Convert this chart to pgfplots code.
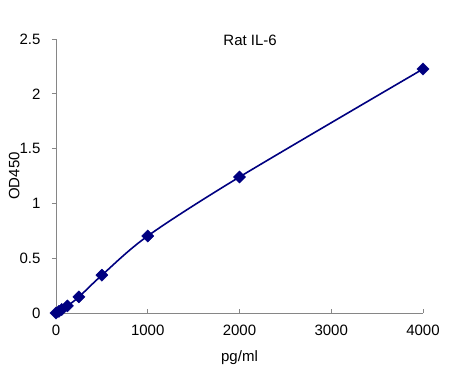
\documentclass[border=0pt]{standalone}
\usepackage{pgfplots}
\pgfplotsset{compat=1.18}
\usepackage{fontspec}
\setmainfont{Liberation Sans}
\definecolor{navyc}{RGB}{0,0,128}
\definecolor{axgray}{RGB}{134,134,134}
\begin{document}
\begin{tikzpicture}
\useasboundingbox (-56pt,-69pt) rectangle (397pt,313pt);
\begin{axis}[
  scale only axis,
  width=367pt, height=274pt,
  anchor=south west, at={(0pt,0pt)},
  xmin=0, xmax=4000, ymin=0, ymax=2.5,
  axis lines=left,
  axis line style={axgray, -, line width=0.8pt},
  xtick={0,1000,2000,3000,4000},
  ytick={0,0.5,1,1.5,2,2.5},
  yticklabels={0,0.5,1,1.5,2,2.5},
  xticklabels={0,1000,2000,3000,4000},
  x tick style={axgray, line width=0.8pt},
  y tick style={axgray, line width=0.8pt},
  xtick align=inside, ytick align=outside,
  major tick length=4pt,
  tick label style={font=\fontsize{15}{17}\selectfont, text=black},
  xticklabel style={yshift=-8pt},
  yticklabel style={xshift=-8pt},
  xlabel={pg/ml}, ylabel={OD450},
  label style={font=\fontsize{15}{17}\selectfont},
  xlabel style={at={(rel axis cs:0.5,0)}, anchor=north, yshift=-34pt},
  ylabel style={at={(rel axis cs:0,0.5)}, anchor=south, rotate=0, yshift=33pt},
  clip=false,
]
\addplot[navyc, line width=1.6pt, smooth, tension=0.5, mark=square*, mark size=4.3pt, mark options={rotate=45, fill=navyc, draw=navyc, line width=0.4pt}]
coordinates {
(0,0) (31.25,0.015) (62.5,0.032) (125,0.065) (250,0.147) (500,0.345) (1000,0.703) (2000,1.241) (4000,2.226)
};
\node[font=\fontsize{15}{17}\selectfont] at (rel axis cs:0.529,0.996) {Rat IL-6};
\end{axis}
\end{tikzpicture}
\end{document}
